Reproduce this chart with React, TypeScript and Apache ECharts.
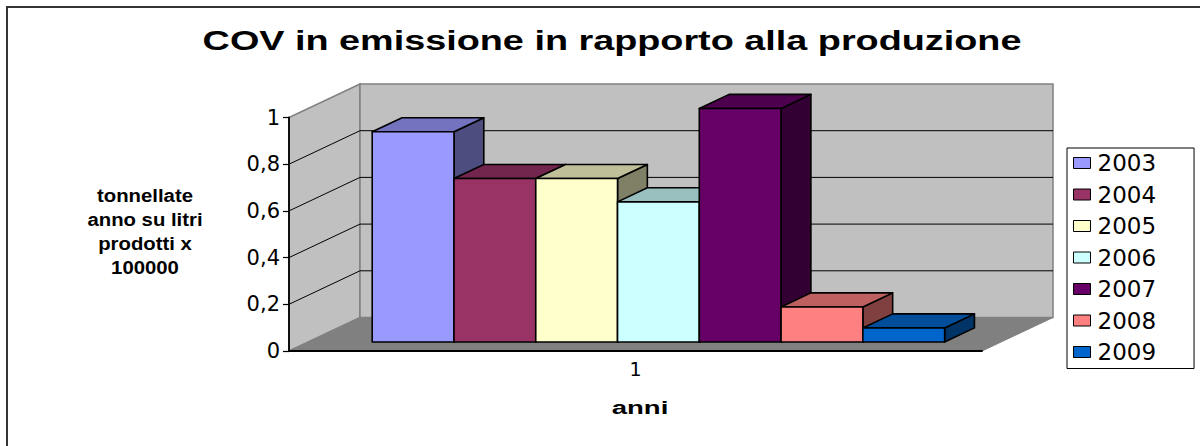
import React, { useEffect, useRef } from 'react';
import * as echarts from 'echarts';

const categories = ['1'];
const years = ['2003', '2004', '2005', '2006', '2007', '2008', '2009'];
const values = [0.9, 0.7, 0.7, 0.6, 1.0, 0.15, 0.06];
const colors = ['#9999FF', '#993366', '#FFFFCC', '#CCFFFF', '#660066', '#FF8080', '#0066CC'];
const yTicks = [0, 0.2, 0.4, 0.6, 0.8, 1];
const titleText = 'COV in emissione in rapporto alla produzione';
const yNameLines = ['tonnellate', 'anno su litri', 'prodotti x', '100000'];
const xName = 'anni';

// projection / layout constants
const DEPTH = [71, -33.5];
const BAR_FRONT = 0.27;
const BAR_DEPTH = 0.42;
const BAR_W = 0.118;
const BAR_START = 0.0924;
const FONT = '"Liberation Sans", Arial, sans-serif';
const WIDE = '"DejaVu Sans", "Liberation Sans", sans-serif';

function shade(hex: string, f: number): string {
  const n = parseInt(hex.slice(1), 16);
  const r = Math.round(((n >> 16) & 255) * f);
  const g = Math.round(((n >> 8) & 255) * f);
  const b = Math.round((n & 255) * f);
  return `rgb(${r},${g},${b})`;
}

export default function App() {
  const ref = useRef<HTMLDivElement>(null);
  useEffect(() => {
    if (!ref.current) return;
    const chart = echarts.init(ref.current, undefined, { renderer: 'svg' });
    const yMax = yTicks[yTicks.length - 1];

    const wallSeries: any = {
      type: 'custom',
      name: 'walls',
      z: 1,
      silent: true,
      data: [[0, 0]],
      encode: { x: 0, y: 1 },
      renderItem: (_p: any, api: any) => {
        const c0 = api.coord([0, 0]);
        const c1 = api.coord([0, yMax]);
        const band = api.size([1, 0])[0];
        const xL = c0[0] - band / 2;
        const xR = c0[0] + band / 2;
        const y0 = c0[1];
        const y1 = c1[1];
        const [dx, dy] = DEPTH;
        const children: any[] = [];
        children.push({
          type: 'polygon',
          shape: { points: [[xL, y0], [xR, y0], [xR + dx, y0 + dy], [xL + dx, y0 + dy]] },
          style: { fill: '#808080', stroke: '#808080', lineWidth: 1 },
        });
        children.push({
          type: 'polygon',
          shape: { points: [[xL, y0], [xL, y1], [xL + dx, y1 + dy], [xL + dx, y0 + dy]] },
          style: { fill: '#C0C0C0', stroke: '#808080', lineWidth: 1.5 },
        });
        children.push({
          type: 'polygon',
          shape: { points: [[xL + dx, y0 + dy], [xL + dx, y1 + dy], [xR + dx, y1 + dy], [xR + dx, y0 + dy]] },
          style: { fill: '#C0C0C0', stroke: '#808080', lineWidth: 1.5 },
        });
        yTicks.slice(1, -1).forEach((t) => {
          const yv = api.coord([0, t])[1];
          children.push({
            type: 'polyline',
            shape: { points: [[xL, yv], [xL + dx, yv + dy], [xR + dx, yv + dy]] },
            style: { fill: null, stroke: '#000', lineWidth: 1 },
          });
        });
        return { type: 'group', children };
      },
    };

    const barSeries = years.map((y, i) => ({
      type: 'custom',
      name: y,
      z: 3 + i,
      itemStyle: { color: colors[i] },
      data: [[0, values[i]]],
      encode: { x: 0, y: 1 },
      renderItem: (_p: any, api: any) => {
        const cat = api.value(0);
        const c0 = api.coord([cat, 0]);
        const cv = api.coord([cat, api.value(1)]);
        const band = api.size([1, 0])[0];
        const left = c0[0] - band / 2;
        const bw = band * BAR_W;
        const fx = DEPTH[0] * BAR_FRONT;
        const fy = DEPTH[1] * BAR_FRONT;
        const bx = DEPTH[0] * BAR_DEPTH;
        const by = DEPTH[1] * BAR_DEPTH;
        const x0 = left + band * BAR_START + i * bw + fx;
        const x1 = x0 + bw;
        const yb = c0[1] + fy;
        const yt = cv[1] + fy;
        const st = { stroke: '#000', lineWidth: 1.6, lineJoin: 'round' };
        return {
          type: 'group',
          children: [
            {
              type: 'polygon',
              shape: { points: [[x1, yt], [x1, yb], [x1 + bx, yb + by], [x1 + bx, yt + by]] },
              style: { fill: shade(colors[i], 0.5), ...st },
            },
            {
              type: 'polygon',
              shape: { points: [[x0, yt], [x1, yt], [x1 + bx, yt + by], [x0 + bx, yt + by]] },
              style: { fill: shade(colors[i], 0.75), ...st },
            },
            {
              type: 'rect',
              shape: { x: x0, y: yt, width: bw, height: yb - yt },
              style: { fill: colors[i], ...st },
            },
          ],
        };
      },
    }));

    chart.setOption({
      animation: false,
      backgroundColor: '#fff',
      grid: { left: 289, right: 218, top: 117.5, bottom: 95 },
      xAxis: {
        type: 'category',
        data: categories,
        z: 10,
        axisLine: { lineStyle: { color: '#000', width: 1.8 } },
        axisTick: { show: false },
        axisLabel: { color: '#000', fontSize: 19, fontFamily: WIDE, margin: 8 },
        splitLine: { show: false },
      },
      yAxis: {
        type: 'value',
        min: 0,
        max: yMax,
        interval: 0.2,
        z: 10,
        axisLine: { show: true, lineStyle: { color: '#000', width: 1.8 } },
        axisTick: { show: true, length: 6, lineStyle: { color: '#000', width: 1.2 } },
        axisLabel: {
          color: '#000',
          fontSize: 21,
          fontFamily: WIDE,
          margin: 9,
          formatter: (v: number) => String(Math.round(v * 10) / 10).replace('.', ','),
        },
        splitLine: { show: false },
      },
      legend: {
        orient: 'vertical',
        left: 1067,
        top: 148,
        padding: [3.5, 38, 5, 6],
        borderColor: '#000',
        borderWidth: 1,
        icon: 'rect',
        itemWidth: 17,
        itemHeight: 11,
        itemGap: 8.5,
        data: years,
        itemStyle: { borderColor: '#000', borderWidth: 1 },
        textStyle: { color: '#000', fontSize: 23, fontFamily: WIDE, padding: [0, 0, 0, 2] },
      },
      graphic: [
        {
          type: 'rect',
          silent: true,
          shape: { x: 7, y: 7, width: 1300, height: 600 },
          style: { fill: 'transparent', stroke: '#333', lineWidth: 2 },
        },
        {
          type: 'text',
          x: 612,
          y: 40,
          scaleX: 1.35,
          style: {
            text: titleText,
            font: `bold 28px ${FONT}`,
            textAlign: 'center',
            textVerticalAlign: 'middle',
            fill: '#000',
          },
        },
        {
          type: 'text',
          x: 145,
          y: 231,
          scaleX: 1.07,
          style: {
            text: yNameLines.join('\n'),
            font: `bold 19px ${FONT}`,
            lineHeight: 24,
            textAlign: 'center',
            textVerticalAlign: 'middle',
            fill: '#000',
          },
        },
        {
          type: 'text',
          x: 640,
          y: 408,
          scaleX: 1.45,
          style: {
            text: xName,
            font: `bold 19px ${FONT}`,
            textAlign: 'center',
            textVerticalAlign: 'middle',
            fill: '#000',
          },
        },
      ],
      series: [wallSeries, ...barSeries],
    });
    return () => chart.dispose();
  }, []);
  return (
    <div
      ref={ref}
      style={{ position: 'absolute', left: 0, top: 0, width: 1200, height: 446, background: '#fff' }}
    />
  );
}
